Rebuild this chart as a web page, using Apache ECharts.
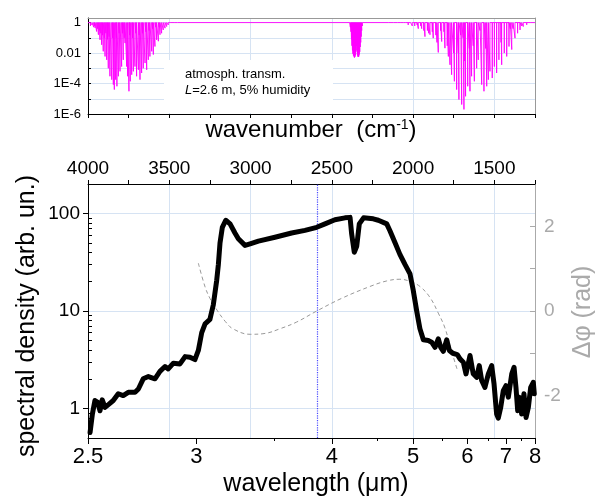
<!DOCTYPE html>
<html>
<head>
<meta charset="utf-8">
<script src="https://cdn.jsdelivr.net/npm/echarts@6/dist/echarts.min.js"></script>
<style>
  html, body { margin: 0; padding: 0; background: #fff; }
  #chart { width: 606px; height: 498px; }
</style>
</head>
<body>
<div id="chart"></div>
<script>
// Atmospheric absorption lines, [wavenumber (cm^-1), transmission]
const waterStretchLines = [
  [3995,0.8],[3985,0.6],[3975,0.7],[3965,0.5],[3960,0.6],[3956,0.45],[3947,0.26],[3941,0.4],
  [3936,0.16],[3931,0.3],[3926,0.074],[3921,0.2],[3916,0.035],[3911,0.15],[3906,0.013],[3900,0.1],
  [3895,0.006],[3890,0.2],[3885,0.0036],[3880,0.08],[3875,0.001],[3870,0.12],[3865,3e-4],[3854,1.8e-4],
  [3849,0.1],[3844,8.5e-5],[3838,4e-5],[3830,1.8e-4],[3826,0.1],[3822,6.6e-5],[3813,3e-4],[3808,0.2],
  [3803,6.3e-4],[3793,1.3e-3],[3788,0.2],[3783,3.6e-3],[3777,0.1],[3772,0.045],[3762,1.3e-3],[3756,3e-4],
  [3748,3.1e-5],[3744,0.15],[3740,1.4e-4],[3731,3.8e-4],[3726,0.1],[3721,6.3e-4],[3711,1.3e-3],[3706,0.2],
  [3701,3e-4],[3690,8e-4],[3685,0.15],[3680,1.8e-4],[3670,4.9e-4],[3665,0.2],[3660,1e-3],[3649,2.2e-3],
  [3644,0.25],[3639,8e-4],[3629,3.6e-3],[3624,0.3],[3619,6e-3],[3608,0.013],[3603,0.4],[3598,0.008],
  [3588,0.027],[3583,0.5],[3578,0.074],[3567,0.06],[3562,0.5],[3557,0.16],[3547,0.2],[3537,0.33],
  [3526,0.43],[3516,0.55],[3506,0.7],[3490,0.85],[3470,0.9],[3450,0.92]
];
const co2Lines = [
  [2390,0.8],[2386,0.5],[2382,0.25],[2379,0.08],[2376,0.03],[2373,0.015],[2370,0.009],[2367,0.007],
  [2364,0.006],[2361,0.005],[2358,0.0055],[2355,0.007],[2352,0.012],[2349,0.03],[2346,0.015],[2343,0.008],
  [2340,0.006],[2337,0.0055],[2334,0.006],[2331,0.008],[2328,0.012],[2325,0.025],[2322,0.05],[2319,0.12],
  [2316,0.3],[2312,0.6],[2308,0.85]
];
const weakLines = [
  [2150,0.9],[2120,0.85],[2095,0.8],[2075,0.85],[2060,0.75],[2045,0.8],[2030,0.7],[2015,0.75],[2005,0.6]
];
const waterBendLines = [
  [1990,0.6],[1975,0.7],[1968,0.4],[1953,0.6],[1947,0.4],[1934,0.3],[1927,0.12],[1912,0.3],
  [1904,0.2],[1896,0.16],[1882,0.25],[1876,0.095],[1860,0.15],[1853,0.05],[1845,0.011],[1831,0.3],
  [1824,0.057],[1810,0.25],[1804,0.021],[1790,0.03],[1783,0.006],[1773,1.7e-3],[1763,3.8e-4],[1751,0.01],
  [1746,1.4e-4],[1732,4e-5],[1722,0.01],[1718,8.9e-6],[1707,0.15],[1701,4.2e-6],[1692,0.1],[1687,2e-6],
  [1682,3e-3],[1677,1.45e-5],[1664,6.6e-5],[1654,0.02],[1650,3.1e-5],[1640,3e-4],[1630,0.03],[1623,1.4e-4],
  [1609,1e-3],[1599,3.6e-3],[1588,0.3],[1578,8.5e-5],[1564,3.1e-5],[1553,0.02],[1547,6.6e-5],[1537,1.8e-4],
  [1527,6.3e-4],[1513,2.3e-4],[1500,1.3e-3],[1486,4.9e-4],[1472,3.6e-3],[1459,0.05],[1455,1.7e-3],[1439,0.01],
  [1424,6e-3],[1410,0.027],[1402,0.4],[1393,0.017],[1385,0.4],[1373,0.095],[1357,0.2],[1342,0.33],
  [1332,0.6],[1322,0.55],[1312,0.75],[1301,0.71],[1290,0.85],[1280,0.9]
];

// Spectral density of the pulse versus wavelength (um)
const spectrumWl = [
  2.508,2.517,2.527,2.538,2.547,2.556,2.567,2.581,2.601,2.622,2.643,2.665,2.695,2.710,2.732,2.756,
  2.787,2.811,2.836,2.852,2.878,2.912,2.939,2.965,2.992,3.011,3.030,3.049,3.077,3.097,3.117,3.127,
  3.137,3.151,3.172,3.199,3.230,3.252,3.296,3.330,3.388,3.509,3.640,3.752,3.857,3.934,4.031,4.134,
  4.188,4.205,4.234,4.261,4.290,4.339,4.454,4.517,4.625,4.669,4.737,4.805,4.878,4.953,5.003,5.056,
  5.107,5.163,5.245,5.302,5.362,5.420,5.464,5.513,5.577,5.628,5.695,5.787,5.843,5.914,5.972,6.061,
  6.135,6.215,6.278,6.337,6.418,6.506,6.594,6.658,6.729,6.775,6.845,6.920,7.000,7.072,7.179,7.252,
  7.315,7.372,7.424,7.508,7.587,7.663,7.746,7.834,7.933,7.972
];
const spectrumDensity = [
  0.57,0.88,1.21,1.16,0.95,1.23,1.03,1.10,1.21,1.42,1.36,1.47,1.47,1.59,2.02,2.13,
  2.02,2.41,2.70,2.55,2.92,2.87,3.41,3.36,3.18,3.94,6.0,7.4,8.2,11.6,20.6,30,
  50,72,85,78,63,55,47,48.8,52,57,63,67,72,78,86,90,
  91,62,40,46,78,90,88,85,78,66,50,38,30,24,16.2,10,
  6.6,5.07,4.98,4.79,4.25,5.19,4.25,3.87,5.07,3.94,3.69,3.58,3.23,2.99,2.27,3.50,
  2.27,2.09,2.76,1.94,1.65,2.27,2.76,1.79,0.88,0.80,1.03,1.53,1.72,1.31,2.27,2.65,
  1.65,0.95,1.31,0.88,1.42,0.81,1.03,1.65,1.86,1.42
];

// Spectral phase (rad) versus wavelength (um)
const phaseWl = [3.011,3.049,3.077,3.119,3.170,3.217,3.330,3.435,3.547,3.682,3.857,4.100,4.415,4.625,4.805,4.953,5.107,5.274,5.420,5.543,5.672,5.787];
const phaseRad = [1.13,0.57,0.30,0.02,-0.25,-0.42,-0.55,-0.53,-0.42,-0.26,0.0,0.30,0.58,0.71,0.75,0.70,0.58,0.32,-0.05,-0.40,-0.95,-1.39];

// Reference wavelength (um), dotted marker
const markerWl = 3.86;

// Axis ticks and labels
const wlMajorTicks = [2.5,3,4,5,6,7,8];
const wlMinorTicks = [3.5,4.5,5.5,6.5,7.5];
const wnLabels = [1500,2000,2500,3000,3500,4000];
const wnTicks = [1250,1500,1750,2000,2250,2500,2750,3000,3250,3500,3750,4000];
const wnGrid = [1500,2000,2500,3000,3500];
const transTicks = [1e-6,1e-5,1e-4,1e-3,1e-2,1e-1,1];
const transLabels = [1e-6,1e-4,1e-2,1];
const densityMajor = [1,10,100];
const densityMinor = [0.6,0.7,0.8,0.9,2,3,4,5,6,7,8,9,20,30,40,50,60,70,80,90];
const phaseTicks = [-2,-1,0,1,2];
const phaseLabels = [-2,0,2];

const WN_MIN = 1250, WN_MAX = 4000;
const toWn = wl => 1e4 / wl;
const gridColor = '#d6e3f3';
const phaseGray = '#aaaaaa';
const FONT = '"Liberation Sans", Arial, sans-serif';

// Transmission drawn as vertical drops from unity at each line position
const allLines = [].concat(waterStretchLines, co2Lines, weakLines, waterBendLines)
  .sort((a, b) => b[0] - a[0]);
const atmData = [[WN_MAX, 1]];
allLines.forEach(([wn, t]) => { atmData.push([wn, 1], [wn, t], [wn, 1]); });
atmData.push([WN_MIN, 1]);

const spectrumData = spectrumWl.map((w, i) => [toWn(w), spectrumDensity[i]]);
const phaseData = phaseWl.map((w, i) => [toWn(w), phaseRad[i]]);

const wnAxisBase = { type: 'value', min: WN_MIN, max: WN_MAX, inverse: true };

const chart = echarts.init(document.getElementById('chart'), null, { renderer: 'canvas' });
chart.setOption({
  animation: false,
  backgroundColor: '#fff',
  textStyle: { fontFamily: FONT },
  grid: [
    { left: 88, top: 18, width: 447, height: 96, containLabel: false, outerBoundsMode: 'none' },
    { left: 88, top: 184, width: 447, height: 254, containLabel: false, outerBoundsMode: 'none' }
  ],
  xAxis: [
    Object.assign({}, wnAxisBase, {
      gridIndex: 0, position: 'bottom', interval: 250,
      axisLine: { onZero: false, lineStyle: { color: '#000', width: 1 } },
      axisTick: { show: true, length: 4, lineStyle: { color: '#000' } },
      axisLabel: { show: false }, splitLine: { show: false }
    }),
    Object.assign({}, wnAxisBase, {
      gridIndex: 0, position: 'top',
      axisLine: { onZero: false, lineStyle: { color: '#999' } },
      axisTick: { show: false, customValues: wnGrid },
      axisLabel: { show: false },
      splitLine: { show: true, lineStyle: { color: gridColor, width: 1 } }
    }),
    Object.assign({}, wnAxisBase, {
      gridIndex: 1, position: 'top',
      axisLine: { onZero: false, lineStyle: { color: '#000', width: 1 } },
      axisTick: { customValues: wnTicks, length: 4, lineStyle: { color: '#000' } },
      axisLabel: { customValues: wnLabels, fontSize: 19, color: '#000', margin: 6,
                   formatter: v => String(Math.round(v)) },
      splitLine: { show: false }
    }),
    Object.assign({}, wnAxisBase, {
      gridIndex: 1, position: 'bottom',
      axisLine: { onZero: false, lineStyle: { color: '#000', width: 1 } },
      axisTick: { customValues: wlMajorTicks.map(toWn), length: 6, lineStyle: { color: '#000' } },
      axisLabel: { customValues: wlMajorTicks.map(toWn), fontSize: 22, color: '#000', margin: 8,
                   formatter: v => String(+(1e4 / v).toFixed(2)) },
      splitLine: { show: false }
    }),
    Object.assign({}, wnAxisBase, {
      gridIndex: 1, position: 'bottom',
      axisLine: { show: false, onZero: false },
      axisTick: { customValues: wlMinorTicks.map(toWn), length: 3, lineStyle: { color: '#000' } },
      axisLabel: { show: false }, splitLine: { show: false }
    }),
    Object.assign({}, wnAxisBase, {
      gridIndex: 1, position: 'top',
      axisLine: { show: false, onZero: false },
      axisTick: { show: false, customValues: wnGrid },
      axisLabel: { show: false },
      splitLine: { show: true, lineStyle: { color: gridColor, width: 1 } }
    })
  ],
  yAxis: [
    {
      gridIndex: 0, type: 'log', logBase: 10, min: 1e-6, max: 2, position: 'left',
      axisLine: { onZero: false, lineStyle: { color: '#000' } },
      axisTick: { customValues: transTicks, inside: true, length: 3, lineStyle: { color: '#000' } },
      axisLabel: { customValues: transLabels, fontSize: 13, color: '#000', margin: 7,
        formatter: v => { const e = Math.round(Math.log10(v)); return e === 0 ? '1' : e === -2 ? '0.01' : '1E' + e; } },
      splitLine: { show: true, lineStyle: { color: gridColor, width: 1 } }
    },
    {
      gridIndex: 0, type: 'value', min: 0, max: 1, position: 'right',
      axisLine: { show: true, onZero: false, lineStyle: { color: '#999' } },
      axisTick: { show: false }, axisLabel: { show: false }, splitLine: { show: false }
    },
    {
      gridIndex: 1, type: 'log', logBase: 10, min: 0.5, max: 200, position: 'left',
      axisLine: { onZero: false, lineStyle: { color: '#000' } },
      axisTick: { customValues: densityMajor, length: 5, lineStyle: { color: '#000' } },
      axisLabel: { customValues: densityMajor, fontSize: 19, color: '#000', margin: 8,
                   formatter: v => String(Math.round(v)) },
      splitLine: { show: true, lineStyle: { color: gridColor, width: 1 } }
    },
    {
      gridIndex: 1, type: 'log', logBase: 10, min: 0.5, max: 200, position: 'left',
      axisLine: { show: false, onZero: false },
      axisTick: { customValues: densityMinor, inside: true, length: 4, lineStyle: { color: '#000' } },
      axisLabel: { show: false }, splitLine: { show: false }
    },
    {
      gridIndex: 1, type: 'value', min: -3, max: 3, position: 'right',
      axisLine: { show: true, onZero: false, lineStyle: { color: phaseGray } },
      axisTick: { show: true, customValues: phaseTicks, inside: true, length: 5, lineStyle: { color: phaseGray } },
      axisLabel: { customValues: phaseLabels, fontSize: 19, color: phaseGray, margin: 9 },
      splitLine: { show: false }
    }
  ],
  series: [
    {
      name: 'atmosph. transm.', type: 'line', xAxisIndex: 0, yAxisIndex: 0,
      data: atmData, symbol: 'none', z: 3,
      lineStyle: { color: '#ff00ff', width: 0.9 }
    },
    {
      name: 'phase', type: 'line', xAxisIndex: 3, yAxisIndex: 4,
      data: phaseData, symbol: 'none', smooth: 0.4, z: 3,
      lineStyle: { color: '#999', width: 1, type: [4, 3] }
    },
    {
      name: 'spectral density', type: 'line', xAxisIndex: 3, yAxisIndex: 2,
      data: spectrumData, symbol: 'none', z: 4,
      lineStyle: { color: '#000', width: 5, join: 'round', cap: 'round' },
      markLine: {
        silent: true, symbol: 'none', label: { show: false }, z: 2,
        lineStyle: { color: '#4a4aff', type: 'dotted', width: 1.2 },
        data: [{ xAxis: toWn(markerWl) }]
      }
    }
  ],
  graphic: [
    { type: 'rect', z: 10, shape: { x: 164, y: 60, width: 169, height: 53 }, style: { fill: '#fff' } },
    { type: 'text', z: 11, x: 185, y: 74,
      style: { text: 'atmosph. transm.', font: '13px ' + FONT, fill: '#000', align: 'left', verticalAlign: 'middle' } },
    { type: 'text', z: 11, x: 185, y: 90,
      style: { text: '{i|L}{r|=2.6 m, 5% humidity}', align: 'left', verticalAlign: 'middle',
        rich: { i: { fontSize: 13, fontStyle: 'italic', fontFamily: FONT, fill: '#000' },
                r: { fontSize: 13, fontFamily: FONT, fill: '#000' } } } },
    { type: 'text', z: 11, x: 311, y: 130,
      style: { text: '{n|wavenumber  (cm}{s|-1}{n|)}', align: 'center', verticalAlign: 'middle',
        rich: { n: { fontSize: 24, fontFamily: FONT, fill: '#000' },
                s: { fontSize: 14, fontFamily: FONT, fill: '#000', verticalAlign: 'top' } } } },
    { type: 'text', z: 11, x: 316, y: 484,
      style: { text: 'wavelength (\u03bcm)', font: '25px ' + FONT, fill: '#000', align: 'center', verticalAlign: 'middle' } },
    { type: 'text', z: 11, x: 27, y: 316, rotation: Math.PI / 2,
      style: { text: 'spectral density (arb. un.)', font: '25px ' + FONT, fill: '#000', align: 'center', verticalAlign: 'middle' } },
    { type: 'text', z: 11, x: 583, y: 312, rotation: Math.PI / 2,
      style: { text: '\u0394\u03c6 (rad)', font: '25px ' + FONT, fill: phaseGray, align: 'center', verticalAlign: 'middle' } }
  ]
});
</script>
</body>
</html>
